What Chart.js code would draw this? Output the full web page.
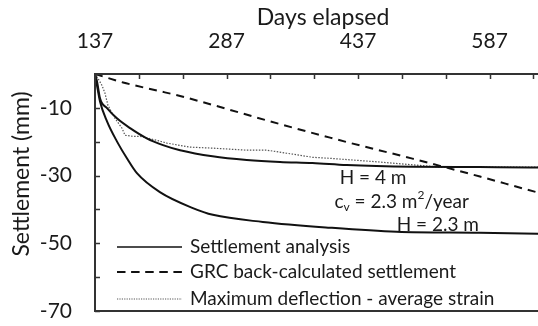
<!DOCTYPE html>
<html>
<head>
<meta charset="utf-8">
<script src="https://cdn.jsdelivr.net/npm/chart.js@4/dist/chart.umd.min.js"></script>
<style>
html,body{margin:0;padding:0;background:#fff;overflow:hidden;width:538px;height:326px;}
#wrap{position:relative;width:556px;height:326px;}
canvas{display:block;}
</style>
</head>
<body>
<div id="wrap"><canvas id="c" width="556" height="326"></canvas></div>
<script>
// ---- data ----
const xTickValues = [137,187,237,287,337,387,437,487,537,587,637];
const xTickLabels = ['137','287','437','587'];
const yTickValues = [0,-10,-20,-30,-40,-50,-60,-70];
const yTickLabels = ['-10','-30','-50','-70'];

const h4Days = [137,139.3,142.7,150.7,162,177,196,214.5,234,271,310,348,385,424,499,575.5,641.6,657];
const h4Vals = [0,-2.2,-7.2,-10.1,-13.1,-16.0,-19.0,-21.0,-22.5,-24.3,-25.4,-26.0,-26.3,-26.9,-27.4,-27.5,-27.6,-27.7];

const h23Days = [137,139.3,142.7,150.7,162,173.4,184.8,211,248.6,271.4,328.4,404.7,481,575.5,641.6,657];
const h23Vals = [0,-3.4,-8.1,-14.0,-19.9,-24.9,-29.3,-34.9,-39.6,-41.6,-43.7,-45.4,-46.6,-46.9,-47.2,-47.3];

const grcDays = [137,169,208,234,348,405,424,499,576,642,657];
const grcVals = [0,-2.5,-4.9,-6.5,-14.8,-18.8,-20.1,-25.0,-30.3,-35.0,-36.0];

const defDays = [137,140.4,145,148.4,151.8,159.8,167.8,171.2,180.3,188.3,207.6,219,245.2,271.4,310,333,355.7,385.3,404.7,461.6,530,575.5,641.6,657];
const defVals = [0,-1.3,-3.4,-5.7,-9.3,-13.1,-16.0,-18.1,-18.4,-18.4,-19.6,-20.4,-21.6,-21.9,-22.5,-22.5,-23.4,-24.6,-24.9,-26.0,-27.5,-27.5,-27.5,-27.5];

const legendLabels = ['Settlement analysis','GRC back-calculated settlement','Maximum deflection - average strain'];

const pts = (xs, ys) => xs.map((x, i) => ({x: x, y: ys[i]}));

const FONT = 'Lato';
const INK = '#1a1a1a';

const decor = {
  id: 'decor',
  afterDatasetsDraw(chart) {
    const ctx = chart.ctx;
    const a = chart.chartArea;
    const xs = chart.scales.x, ys = chart.scales.y;
    ctx.save();
    // frame
    ctx.strokeStyle = '#333';
    ctx.lineWidth = 2;
    ctx.setLineDash([]);
    ctx.beginPath();
    ctx.moveTo(a.right + 5, a.top); ctx.lineTo(a.left, a.top); ctx.lineTo(a.left, a.bottom); ctx.lineTo(a.right + 5, a.bottom);
    ctx.stroke();
    // tick marks (inward)
    ctx.lineWidth = 1.5;
    ctx.beginPath();
    xTickValues.forEach(v => { const px = Math.round(xs.getPixelForValue(v)) + 0.5; ctx.moveTo(px, a.top); ctx.lineTo(px, a.top + 5); });
    yTickValues.forEach(v => { const py = Math.round(ys.getPixelForValue(v)) + 0.5; ctx.moveTo(a.left, py); ctx.lineTo(a.left + 5, py); });
    ctx.stroke();

    // y-axis title
    ctx.fillStyle = INK;
    ctx.font = '23px ' + FONT;
    ctx.textAlign = 'center';
    ctx.textBaseline = 'middle';
    ctx.save();
    ctx.translate(22, 174);
    ctx.rotate(-Math.PI / 2);
    ctx.fillText('Settlement (mm)', 0, 0);
    ctx.restore();

    // annotations
    ctx.font = '19px ' + FONT;
    ctx.textAlign = 'left';
    ctx.textBaseline = 'middle';
    ctx.fillText('H = 4 m', xs.getPixelForValue(416), ys.getPixelForValue(-30.7));
    let cx = xs.getPixelForValue(410), cy = ys.getPixelForValue(-37.8);
    ctx.fillText('c', cx, cy); cx += ctx.measureText('c').width;
    ctx.font = '12px ' + FONT;
    ctx.fillText('v', cx, cy + 5); cx += ctx.measureText('v').width;
    ctx.font = '19px ' + FONT;
    ctx.fillText(' = 2.3 m', cx, cy); cx += ctx.measureText(' = 2.3 m').width;
    ctx.font = '12px ' + FONT;
    ctx.fillText('2', cx, cy - 7); cx += ctx.measureText('2').width;
    ctx.font = '19px ' + FONT;
    ctx.fillText('/year', cx, cy);
    ctx.fillText('H = 2.3 m', xs.getPixelForValue(481), ys.getPixelForValue(-44.6));

    // legend
    const lx0 = a.left + 22, lx1 = a.left + 87, tx = a.left + 95;
    const rows = [247, 272, 299];
    const styles = [
      {w: 1.4, dash: [], col: '#111'},
      {w: 2, dash: [8.5, 5.6], col: '#111'},
      {w: 1, dash: [1.2, 1.2], col: '#555'}
    ];
    rows.forEach((ry, i) => {
      ctx.strokeStyle = styles[i].col;
      ctx.lineWidth = styles[i].w;
      ctx.setLineDash(styles[i].dash);
      ctx.beginPath(); ctx.moveTo(lx0, ry); ctx.lineTo(lx1, ry); ctx.stroke();
      ctx.setLineDash([]);
      ctx.fillStyle = INK;
      ctx.font = '19px ' + FONT;
      ctx.fillText(legendLabels[i], tx, ry);
    });
    ctx.restore();
  }
};

new Chart(document.getElementById('c'), {
  type: 'line',
  data: {
    datasets: [
      {label: 'H = 4 m', data: pts(h4Days, h4Vals), borderColor: '#111', borderWidth: 2, pointRadius: 0, cubicInterpolationMode: 'monotone', fill: false},
      {label: 'H = 2.3 m', data: pts(h23Days, h23Vals), borderColor: '#111', borderWidth: 2, pointRadius: 0, cubicInterpolationMode: 'monotone', fill: false},
      {label: 'GRC', data: pts(grcDays, grcVals), borderColor: '#111', borderWidth: 2, borderDash: [8, 6], pointRadius: 0, cubicInterpolationMode: 'monotone', fill: false},
      {label: 'Deflection', data: pts(defDays, defVals), borderColor: '#555', borderWidth: 1.2, borderDash: [1.5, 1.5], pointRadius: 0, tension: 0, fill: false}
    ]
  },
  options: {
    responsive: false,
    animation: false,
    devicePixelRatio: 1,
    layout: {padding: {left: 0, right: 5, top: 0, bottom: 15}},
    plugins: {legend: {display: false}, tooltip: {enabled: false}},
    scales: {
      x: {
        type: 'linear', position: 'top', min: 137, max: 657,
        afterBuildTicks: s => { s.ticks = xTickValues.map(v => ({value: v})); },
        afterFit: s => { s.height = 74; s.paddingLeft = 0; s.paddingRight = 0; s.paddingTop = 0; s.paddingBottom = 0; },
        grid: {display: false, drawTicks: false},
        border: {display: false},
        ticks: {
          autoSkip: false, maxRotation: 0, padding: 20, color: INK,
          font: {family: FONT, size: 21},
          callback: v => xTickLabels.includes(String(v)) ? String(v) : ''
        },
        title: {display: true, text: 'Days elapsed', color: INK, font: {family: FONT, size: 23}, padding: {top: 4, bottom: 0}}
      },
      y: {
        type: 'linear', min: -70, max: 0,
        afterBuildTicks: s => { s.ticks = yTickValues.map(v => ({value: v})); },
        afterFit: s => { s.width = 95; s.paddingTop = 0; s.paddingBottom = 0; s.paddingLeft = 0; s.paddingRight = 0; },
        grid: {display: false, drawTicks: false},
        border: {display: false},
        ticks: {
          autoSkip: false, padding: 23, color: INK,
          font: {family: FONT, size: 21},
          callback: v => yTickLabels.includes(String(v)) ? String(v) : ''
        }
      }
    }
  },
  plugins: [decor]
});
</script>
</body>
</html>
